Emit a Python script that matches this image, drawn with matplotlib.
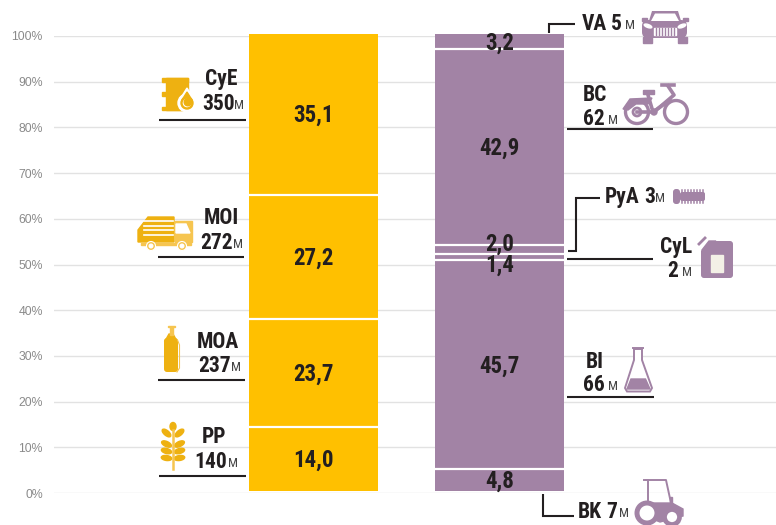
import numpy as np
import matplotlib
matplotlib.use('Agg')
import matplotlib.pyplot as plt
from matplotlib.patches import Circle, Ellipse, FancyBboxPatch, Polygon, Rectangle
import logging
logging.getLogger('matplotlib.font_manager').setLevel(logging.ERROR)

W, H = 776, 525
YELLOW = '#FFC000'
PURPLE = '#A283A5'
ICON_Y = '#EEB111'
ICON_Y2 = '#F6C550'
DARK = '#231F20'
NARROW = ['Roboto Condensed', 'Barlow Condensed', 'Asap Condensed', 'Liberation Sans']

ticks = [0, 10, 20, 30, 40, 50, 60, 70, 80, 90, 100]
tick_labels = ['0%', '10%', '20%', '30%', '40%', '50%', '60%', '70%', '80%', '90%', '100%']

left_values = [14.0, 23.7, 27.2, 35.1]
left_text = ['14,0', '23,7', '27,2', '35,1']
right_values = [4.8, 45.7, 1.4, 2.0, 42.9, 3.2]
right_text = ['4,8', '45,7', '1,4', '2,0', '42,9', '3,2']

bar_pos = [313.5, 499.5]

# name, amount, then pixel spots: name x, name y, amount x, amount y, M x
notes = [
    ('CyE', '350', 205, 79, 202, 104, 234),
    ('MOI', '272', 204, 218, 200, 243, 233),
    ('MOA', '237', 197, 342, 198, 366, 231),
    ('PP', '140', 202, 437, 194, 462, 228),
    ('VA', '5', 582, 24, 611, 24, 625),
    ('BC', '62', 583, 95, 583, 119, 608),
    ('PyA', '3', 605, 197, 644, 197, 655),
    ('CyL', '2', 660, 247, 667, 271, 682),
    ('BI', '66', 586, 362, 583, 385, 608),
    ('BK', '7', 578, 512, 606, 512, 619),
]
# black leader lines, pixels
leaders = [
    [(159, 119.5), (246, 119.5)], [(158, 257), (244, 257)],
    [(158, 380), (245, 380)], [(159, 476), (246, 476)],
    [(567, 128.7), (653, 128.7)], [(567, 397), (654, 397)],
    [(567, 259), (653, 259)],
    [(568, 251), (576, 251), (576, 198), (600, 198)],
    [(549, 33), (549, 24), (575, 24)],
    [(543, 494), (543, 516), (574, 516)],
]


def stack(ax, x, values, labels, color, nudge=None):
    bottom = 0.4
    for i, (v, t) in enumerate(zip(values, labels)):
        ax.bar(x, v, bottom=bottom, width=129, color=color, zorder=3, clip_on=False)
        # the two thin segments push their labels apart
        shift = nudge.get(t, 0) if nudge else 0
        ax.text(x, bottom + v / 2 - 0.3 + shift, t, ha='center', va='center', color=DARK,
                fontsize=16.5, fontweight='bold', family=NARROW, zorder=5)
        bottom += v
        if i < len(values) - 1:
            ax.hlines(bottom, x - 64.5, x + 64.5, color='white', lw=1.6, zorder=4)


def barrel(o):
    o.add_patch(Rectangle((166, 78), 22, 32, color=ICON_Y))
    o.add_patch(Rectangle((162, 78), 26, 3.5, color=ICON_Y))
    o.add_patch(Rectangle((162, 92), 5, 4, color=ICON_Y))
    o.add_patch(Rectangle((162, 106.5), 26, 3.5, color=ICON_Y))
    o.add_patch(Circle((187, 103), 9, color='white'))
    o.add_patch(Polygon([(187, 88), (179.5, 100), (194.5, 100)], color='white'))
    o.add_patch(Circle((187, 103), 6, color=ICON_Y))
    o.add_patch(Polygon([(187, 92), (182, 100), (192, 100)], color=ICON_Y))
    o.add_patch(Circle((187, 103), 3.6, color='white'))
    o.add_patch(Circle((187.8, 102.2), 3.6, color=ICON_Y))


def truck(o):
    o.add_patch(Rectangle((175, 221), 17, 21, color=ICON_Y2))
    o.add_patch(Polygon([(176, 224), (186, 224), (190, 233), (176, 233)], color='white'))
    o.add_patch(Polygon([(138, 230), (148, 217), (174, 217), (174, 242), (138, 242)], color=ICON_Y))
    for y in (221, 225.5, 230, 234.5):
        o.plot([144, 173], [y, y], color='white', lw=1.2)
    o.add_patch(Rectangle((141, 243), 50, 2, color=ICON_Y2))
    for x in (151, 182):
        o.add_patch(Circle((x, 246), 4.5, color=ICON_Y2, ec='white', lw=0.8, zorder=3))
        o.add_patch(Circle((x, 246), 1.8, color='white', zorder=3))


def bottle(o):
    o.add_patch(FancyBboxPatch((164, 338), 14, 34, boxstyle='round,pad=0,rounding_size=3', fc=ICON_Y, ec='none'))
    o.add_patch(Polygon([(164.5, 342), (169, 334), (173, 334), (177.5, 342)], color=ICON_Y))
    o.plot([177.5, 179.5, 179.5, 177], [340, 345, 368, 372], color=ICON_Y2, lw=0.8)
    o.add_patch(Rectangle((169.5, 327), 3.5, 8, color=ICON_Y2))
    o.add_patch(Rectangle((168, 325.5), 7, 1.2, color=ICON_Y2))


def wheat(o):
    o.plot([173, 173], [430, 469], color=ICON_Y2, lw=1.8)
    o.add_patch(Ellipse((173, 426.5), 6, 8, color=ICON_Y))
    for y, a in zip((433, 444, 451, 458), (40, 25, 15, 8)):
        o.add_patch(Ellipse((166.5, y), 10.5, 5, angle=a, color=ICON_Y))
        o.add_patch(Ellipse((179.5, y), 10.5, 5, angle=-a, color=ICON_Y))


def car(o):
    o.add_patch(FancyBboxPatch((642, 20), 45, 18, boxstyle='round,pad=0,rounding_size=6', fc=PURPLE, ec='none'))
    o.add_patch(Polygon([(648, 24), (652, 11), (678, 11), (682, 24)], fc=PURPLE, ec='none'))
    o.add_patch(Polygon([(651, 21), (655, 13.5), (675, 13.5), (679, 21)], fc='white', ec='none'))
    o.add_patch(Rectangle((642, 18), 5, 3, color=PURPLE))
    o.add_patch(Rectangle((683, 18), 5, 3, color=PURPLE))
    o.add_patch(Rectangle((643, 37), 9, 6, color=PURPLE))
    o.add_patch(Rectangle((678, 37), 9, 6, color=PURPLE))
    o.add_patch(Ellipse((648, 26), 8, 3, angle=20, color='white'))
    o.add_patch(Ellipse((682, 26), 8, 3, angle=-20, color='white'))
    o.add_patch(Rectangle((654, 28), 22, 7, color='white'))
    for x in np.arange(656, 676, 3):
        o.plot([x, x], [28, 35], color=PURPLE, lw=1)


def bike(o):
    for x in (637, 676):
        o.add_patch(Circle((x, 112), 11.5, fc='none', ec=PURPLE, lw=2.4))
    o.add_patch(Circle((637, 112), 4, fc='none', ec=PURPLE, lw=2))
    o.add_patch(Circle((654, 112), 3, color=PURPLE))
    o.add_patch(Polygon([(623, 109), (630, 99), (652, 98), (648, 104), (636, 104), (628, 110)], color=PURPLE))
    o.plot([637, 654, 674, 668], [112, 112, 95, 86], color=PURPLE, lw=2.6)
    o.plot([648, 653, 670], [95, 112, 100], color=PURPLE, lw=2.6)
    o.plot([662, 674], [85, 85], color=PURPLE, lw=2.6)
    o.add_patch(Rectangle((643, 90), 11, 4, color=PURPLE))


def screw(o):
    o.add_patch(FancyBboxPatch((673, 189), 7, 15, boxstyle='round,pad=0,rounding_size=3', fc=PURPLE, ec='none'))
    o.add_patch(FancyBboxPatch((680, 192), 25, 9, boxstyle='round,pad=0,rounding_size=2', fc=PURPLE, ec='none'))
    for x in np.arange(682, 704, 3):
        o.plot([x, x], [190, 203], color=PURPLE, lw=1.1)


def canister(o):
    o.add_patch(FancyBboxPatch((701, 241), 32, 37, boxstyle='round,pad=0,rounding_size=3', fc=PURPLE, ec='none'))
    o.add_patch(Polygon([(700, 240), (710, 240), (702, 250), (700, 250)], color='white'))
    o.add_patch(Polygon([(702, 250), (709, 241), (716, 241), (702, 256)], color=PURPLE))
    o.add_patch(Rectangle((711, 255), 12, 17, color='#F3F0E6'))
    o.plot([699, 705], [244, 238], color=PURPLE, lw=2)


def flask(o):
    o.add_patch(Polygon([(634, 349), (642, 349), (642, 360), (652, 388), (650, 391.5), (627, 391.5), (625, 388), (634, 360)],
                        fc='white', ec=PURPLE, lw=1.4))
    o.add_patch(Polygon([(631, 379), (645.5, 379), (650, 389), (627, 389)], color=PURPLE))
    o.plot([633, 643], [348, 348], color=PURPLE, lw=1.4)


def tractor(o):
    o.plot([646, 648, 648], [480, 480, 503], color=PURPLE, lw=1.4)
    o.plot([644, 666, 671], [480, 480, 503], color=PURPLE, lw=1.4)
    o.add_patch(Polygon([(645, 503), (672, 503), (683, 509), (683, 516), (660, 522), (645, 516)], color=PURPLE))
    o.add_patch(Rectangle((670, 497), 2, 7, color=PURPLE))
    o.add_patch(Circle((647, 513), 10, fc='white', ec=PURPLE, lw=3.6, zorder=3))
    o.add_patch(Circle((672, 517), 7.5, fc='white', ec=PURPLE, lw=3.4, zorder=3))


fig = plt.figure(figsize=(W / 100, H / 100), dpi=100)
# 0% sits at y=493 and 100% at y=36
ax = fig.add_axes([54 / W, (H - 493) / H, (W - 54) / W, 457 / H])
ax.set_xlim(54, W)
ax.set_ylim(0, 100)
ax.set_yticks(ticks)
ax.set_yticklabels(tick_labels, family=['Liberation Sans'], fontsize=8.8, color='#8A8A8A')
ax.set_xticks([])
ax.tick_params(axis='y', length=0, pad=8)
ax.grid(axis='y', color='#E2E2E2', lw=1)
ax.set_axisbelow(True)
for s in ax.spines.values():
    s.set_visible(False)

stack(ax, bar_pos[0], left_values, left_text, YELLOW)
stack(ax, bar_pos[1], right_values, right_text, PURPLE, nudge={'1,4': -1.5, '2,0': 1.5})

# overlay in pixels for icons and callouts
ov = fig.add_axes([0, 0, 1, 1], facecolor='none')
ov.set_xlim(0, W)
ov.set_ylim(H, 0)
ov.axis('off')

for line in leaders:
    ov.plot([p[0] for p in line], [p[1] for p in line], color=DARK, lw=1.5, solid_capstyle='butt', solid_joinstyle='miter')

for name, amount, nx, ny, ax_l, ay, mx in notes:
    ov.text(nx, ny, name, ha='left', va='center', color=DARK, fontsize=15.5, fontweight='bold', family=NARROW)
    ov.text(ax_l, ay, amount, ha='left', va='center', color=DARK, fontsize=15.5, fontweight='bold', family=NARROW)
    ov.text(mx, ay + 1.5, 'M', ha='left', va='center', color='#444444', fontsize=9.5, family=NARROW)

for draw in (barrel, truck, bottle, wheat, car, bike, screw, canister, flask, tractor):
    draw(ov)

fig.savefig('out.png', dpi=100)
